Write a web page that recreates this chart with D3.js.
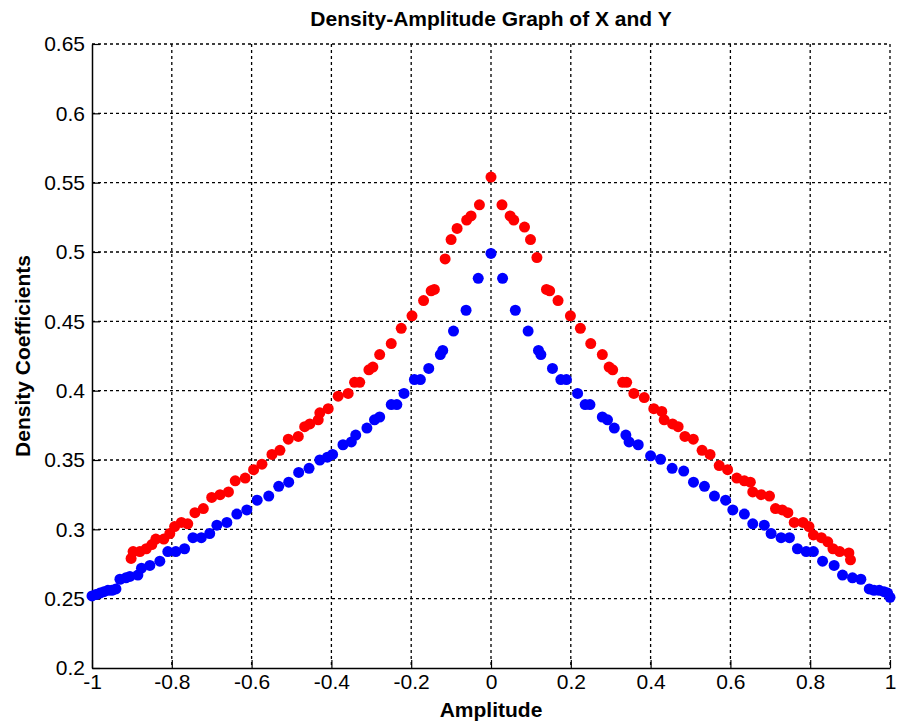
<!DOCTYPE html>
<html>
<head>
<meta charset="utf-8">
<script src="https://cdn.jsdelivr.net/npm/d3@7"></script>
<style>
  body { margin: 0; background: #fff; }
  text { font-family: "Liberation Sans", Arial, sans-serif; }
</style>
</head>
<body>
<div id="chart"></div>
<script>
// density values
const xTicks = [-1, -0.8, -0.6, -0.4, -0.2, 0, 0.2, 0.4, 0.6, 0.8, 1];
const yTicks = [0.2, 0.25, 0.3, 0.35, 0.4, 0.45, 0.5, 0.55, 0.6, 0.65];

const blueX = [-1.0, -0.99, -0.98, -0.97, -0.96, -0.95, -0.94, -0.93, -0.915, -0.905, -0.885, -0.876,
  -0.855, -0.83, -0.81, -0.79, -0.768, -0.747, -0.726, -0.705, -0.687, -0.662, -0.637, -0.612,
  -0.586, -0.557, -0.532, -0.507, -0.482, -0.456, -0.429, -0.41, -0.397, -0.371, -0.35, -0.339,
  -0.311, -0.292, -0.279, -0.25, -0.236, -0.218, -0.192, -0.177, -0.156, -0.127, -0.121, -0.094,
  -0.0625, -0.032, 0,
  0.029, 0.061, 0.093, 0.119, 0.125, 0.154, 0.175, 0.189, 0.217, 0.236, 0.248, 0.279, 0.292,
  0.309, 0.338, 0.346, 0.369, 0.4, 0.425, 0.454, 0.483, 0.5075, 0.535, 0.56, 0.588, 0.606,
  0.635, 0.656, 0.685, 0.702, 0.727, 0.748, 0.768, 0.79, 0.808, 0.831, 0.86, 0.881, 0.906,
  0.927, 0.948, 0.96, 0.973, 0.985, 0.994, 1.0];
const blueY = [0.252, 0.253, 0.254, 0.255, 0.256, 0.256, 0.257, 0.264, 0.265, 0.266, 0.267, 0.272,
  0.274, 0.277, 0.284, 0.284, 0.286, 0.294, 0.294, 0.297, 0.303, 0.305, 0.311, 0.314,
  0.321, 0.324, 0.331, 0.334, 0.341, 0.344, 0.350, 0.352, 0.354, 0.361, 0.363, 0.368,
  0.373, 0.379, 0.381, 0.39, 0.39, 0.398, 0.408, 0.408, 0.416, 0.426, 0.429, 0.443,
  0.458, 0.481, 0.499,
  0.481, 0.458, 0.443, 0.429, 0.426, 0.416, 0.408, 0.408, 0.398, 0.39, 0.39, 0.381, 0.379,
  0.373, 0.368, 0.363, 0.361, 0.353, 0.3505, 0.344, 0.342, 0.334, 0.331, 0.324, 0.321, 0.314,
  0.311, 0.304, 0.303, 0.297, 0.294, 0.294, 0.286, 0.284, 0.284, 0.277, 0.274, 0.267, 0.265,
  0.264, 0.257, 0.256, 0.256, 0.255, 0.254, 0.251];

const redX = [-0.902, -0.897, -0.88, -0.864, -0.85, -0.84, -0.82, -0.805, -0.793, -0.776, -0.76,
  -0.742, -0.721, -0.7, -0.679, -0.658, -0.641, -0.616, -0.595, -0.574, -0.549, -0.529, -0.508,
  -0.483, -0.467, -0.454, -0.433, -0.429, -0.408, -0.383, -0.358, -0.342, -0.329, -0.306, -0.296,
  -0.279, -0.25, -0.225, -0.198, -0.169, -0.15, -0.142, -0.115, -0.1, -0.085, -0.061, -0.05,
  -0.029, 0,
  0.0275, 0.048, 0.057, 0.084, 0.099, 0.115, 0.139, 0.147, 0.168, 0.199, 0.224, 0.25, 0.279,
  0.296, 0.305, 0.33, 0.34, 0.358, 0.384, 0.408, 0.428, 0.434, 0.455, 0.469, 0.486, 0.507,
  0.529, 0.549, 0.572, 0.593, 0.616, 0.635, 0.65, 0.656, 0.677, 0.698, 0.713, 0.73, 0.744,
  0.76, 0.782, 0.797, 0.808, 0.828, 0.844, 0.857, 0.874, 0.897, 0.901];
const redY = [0.279, 0.284, 0.284, 0.286, 0.289, 0.293, 0.293, 0.297, 0.302, 0.305, 0.304,
  0.312, 0.315, 0.323, 0.325, 0.327, 0.335, 0.337, 0.343, 0.347, 0.354, 0.357, 0.365,
  0.367, 0.374, 0.376, 0.379, 0.384, 0.387, 0.396, 0.398, 0.406, 0.406, 0.415, 0.417,
  0.426, 0.434, 0.445, 0.454, 0.465, 0.472, 0.473, 0.495, 0.509, 0.517, 0.523, 0.526,
  0.534, 0.554,
  0.534, 0.526, 0.523, 0.518, 0.509, 0.496, 0.473, 0.472, 0.465, 0.454, 0.445, 0.434, 0.426,
  0.417, 0.415, 0.406, 0.406, 0.398, 0.395, 0.387, 0.385, 0.379, 0.376, 0.374, 0.367, 0.365,
  0.357, 0.354, 0.346, 0.343, 0.337, 0.335, 0.334, 0.327, 0.325, 0.324, 0.315, 0.314, 0.312,
  0.305, 0.305, 0.302, 0.296, 0.294, 0.291, 0.286, 0.284, 0.283, 0.278];

const series = [
  { name: 'Y', color: '#ff0000', points: redX.map((x, i) => [x, redY[i]]) },
  { name: 'X', color: '#0000ff', points: blueX.map((x, i) => [x, blueY[i]]) },
];

const width = 903;
const height = 723;
const margin = { top: 44, right: 13, bottom: 55, left: 92 };
const innerWidth = width - margin.left - margin.right;
const innerHeight = height - margin.top - margin.bottom;

const svg = d3.select('#chart').append('svg')
  .attr('width', width)
  .attr('height', height);

const g = svg.append('g')
  .attr('transform', `translate(${margin.left}, ${margin.top})`);

const xScale = d3.scaleLinear()
  .domain([-1, 1])
  .range([0, innerWidth]);

const yScale = d3.scaleLinear()
  .domain([0.2, 0.65])
  .range([innerHeight, 0]);

// matlab style labels use a plain hyphen
const fmt = d => d3.format('~g')(d).replace('\u2212', '-');

// grid
g.append('g')
  .selectAll('line').data(xTicks.slice(1, -1))
  .enter().append('line')
    .attr('x1', d => xScale(d)).attr('x2', d => xScale(d))
    .attr('y1', 0).attr('y2', innerHeight)
    .attr('stroke', '#000')
    .attr('stroke-width', 1.3)
    .attr('stroke-dasharray', '3,3');
g.append('g')
  .selectAll('line').data(yTicks.slice(1, -1))
  .enter().append('line')
    .attr('y1', d => yScale(d)).attr('y2', d => yScale(d))
    .attr('x1', 0).attr('x2', innerWidth)
    .attr('stroke', '#000')
    .attr('stroke-width', 1.3)
    .attr('stroke-dasharray', '3,3');
// top and right edges are dotted too
g.append('line')
  .attr('x1', 0).attr('x2', innerWidth).attr('y1', 0).attr('y2', 0)
  .attr('stroke', '#000').attr('stroke-width', 1.3).attr('stroke-dasharray', '3,3');
g.append('line')
  .attr('x1', innerWidth).attr('x2', innerWidth).attr('y1', 0).attr('y2', innerHeight)
  .attr('stroke', '#000').attr('stroke-width', 1.3).attr('stroke-dasharray', '3,3');

const axisConfig = AxisG => {
  AxisG.select('.domain')
    .attr('stroke-width', 1.5);
  AxisG.selectAll('line')
    .attr('stroke-width', 1.2);
  AxisG.selectAll('text')
    .attr('font-size', 21)
    .attr('fill', '#000');
};

const xAxis = d3.axisBottom(xScale)
  .tickValues(xTicks)
  .tickFormat(fmt)
  .tickSizeInner(-8)
  .tickSizeOuter(0)
  .tickPadding(6);
g.append('g')
  .attr('class', 'x-axis')
  .attr('transform', `translate(0, ${innerHeight})`)
  .call(xAxis)
  .call(axisConfig);

const yAxis = d3.axisLeft(yScale)
  .tickValues(yTicks)
  .tickFormat(fmt)
  .tickSizeInner(-8)
  .tickSizeOuter(0)
  .tickPadding(7);
g.append('g')
  .attr('class', 'y-axis')
  .call(yAxis)
  .call(axisConfig);

// points
for (let s of series) {
  g.append('g')
    .selectAll('circle').data(s.points)
    .enter().append('circle')
      .attr('cx', d => xScale(d[0]))
      .attr('cy', d => yScale(d[1]))
      .attr('r', 5.5)
      .attr('fill', s.color);
}

// labels
svg.append('text')
  .attr('x', margin.left + innerWidth / 2)
  .attr('y', 26)
  .attr('text-anchor', 'middle')
  .attr('font-size', 21)
  .attr('font-weight', 'bold')
  .text('Density-Amplitude Graph of X and Y');

svg.append('text')
  .attr('x', margin.left + innerWidth / 2)
  .attr('y', 717)
  .attr('text-anchor', 'middle')
  .attr('font-size', 21)
  .attr('font-weight', 'bold')
  .text('Amplitude');

svg.append('text')
  .attr('transform', `translate(30, ${margin.top + innerHeight / 2}) rotate(-90)`)
  .attr('text-anchor', 'middle')
  .attr('font-size', 21)
  .attr('font-weight', 'bold')
  .text('Density Coefficients');
</script>
</body>
</html>
